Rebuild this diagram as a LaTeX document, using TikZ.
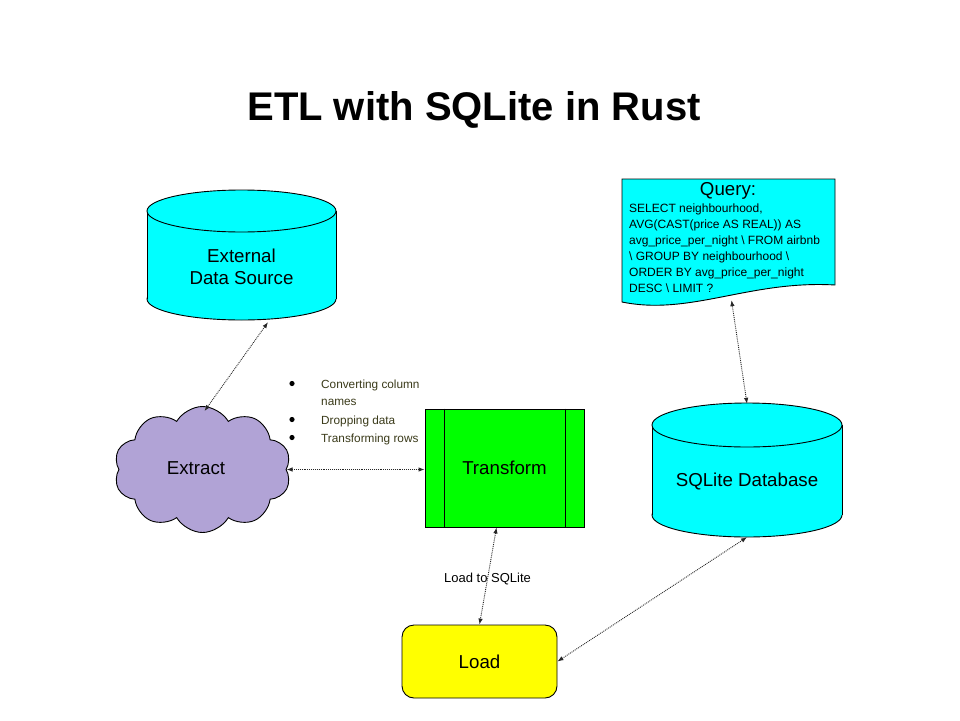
\documentclass[tikz,border=0pt]{standalone}
\usepackage{fontspec}
\setmainfont{Liberation Sans}
\usetikzlibrary{shapes.symbols,arrows.meta,calc}
\definecolor{cyanfill}{HTML}{00FFFF}
\definecolor{greenfill}{HTML}{00FF00}
\definecolor{yellowfill}{HTML}{FFFF00}
\definecolor{cloudfill}{HTML}{B1A3D6}
\definecolor{olivetext}{HTML}{3B3B1A}
\tikzset{
  outline/.style={draw=black, line width=0.9pt},
  lbl/.style={font=\fontsize{18.7}{22}\selectfont, align=center},
  conn/.style={densely dotted, draw=black!85, line width=0.9pt,
    {Latex[length=6pt,width=4.5pt]}-{Latex[length=6pt,width=4.5pt]}},
  bullettext/.style={anchor=base west, inner sep=0pt, text=olivetext, font=\fontsize{11.8}{14}\selectfont},
  anchorbox/.style={rectangle, inner sep=0pt, draw=none},
}
\begin{document}
\begin{tikzpicture}[x=1pt,y=-1pt]
\useasboundingbox (0,0) rectangle (960,720);
\fill[white] (0,0) rectangle (960,720);

% title
\node[font=\fontsize{40}{46}\selectfont\bfseries, anchor=base] (title) at (474,120) {ETL with SQLite in Rust};

% External data source cylinder
\node[anchorbox, minimum width=189pt, minimum height=130pt] (ext) at (241.5,255) {};
\fill[cyanfill, outline] (241.5,299) ellipse [x radius=94.5, y radius=21];
\fill[cyanfill] (147,211) rectangle (336,299);
\draw[outline] (147,211) -- (147,299) (336,211) -- (336,299);
\fill[cyanfill, outline] (241.5,211) ellipse [x radius=94.5, y radius=21];
\node[lbl] (exttext) at (241.5,266.5) {External\\Data Source};

% SQLite database cylinder
\node[anchorbox, minimum width=190pt, minimum height=133pt] (db) at (747,470.5) {};
\fill[cyanfill, outline] (747,515) ellipse [x radius=95, y radius=22];
\fill[cyanfill] (652,425) rectangle (842,515);
\draw[outline] (652,425) -- (652,515) (842,425) -- (842,515);
\fill[cyanfill, outline] (747,425) ellipse [x radius=95, y radius=22];
\node[lbl] (dbtext) at (747,481) {SQLite Database};

% Query document
\node[anchorbox, minimum width=213pt, minimum height=121pt] (q) at (728.5,239.5) {};
\filldraw[fill=cyanfill, outline] (622,179) -- (835,179) -- (835,285)
  .. controls (750,280) and (690,316) .. (622,302) -- cycle;
\node[font=\fontsize{18.7}{22}\selectfont] (qtitle) at (728,190.5) {Query:};
\node[anchor=north west, inner sep=0pt, align=left, font=\fontsize{12}{16}\selectfont] (qbody) at (629,203.5)
{SELECT neighbourhood,\\AVG(CAST(price AS REAL)) AS\\avg\_price\_per\_night \textbackslash{} FROM airbnb\\\textbackslash{} GROUP BY neighbourhood \textbackslash{}\\ORDER BY avg\_price\_per\_night\\DESC \textbackslash{} LIMIT ?};

% Extract cloud
\node[cloud, cloud puffs=10, cloud puff arc=120, aspect=1.45, fill=cloudfill, outline,
  minimum width=177pt, minimum height=126pt, inner sep=0pt] (ex) at (202.5,469.5) {};
\node[lbl] (extext) at (196,468.5) {Extract};

% Transform process box
\node[rectangle, fill=greenfill, outline, minimum width=159pt, minimum height=118pt, lbl] (tr) at (504.5,468) {Transform};
\draw[outline] ($(tr.north)+(-60.5,0)$) -- ($(tr.south)+(-60.5,0)$);
\draw[outline] ($(tr.north)+(60.5,0)$) -- ($(tr.south)+(60.5,0)$);

% Load rounded box
\node[rectangle, rounded corners=12pt, fill=yellowfill, outline, minimum width=155pt, minimum height=73pt, lbl] (ld) at (479.5,661.5) {Load};

% bullet list
\fill (292,383.5) circle (2.6);
\fill (292,419.5) circle (2.6);
\fill (292,437.5) circle (2.6);
\node[bullettext] (b1) at (321,388) {Converting column};
\node[bullettext] (b1b) at (321,405.5) {names};
\node[bullettext] (b2) at (321,424) {Dropping data};
\node[bullettext] (b3) at (321,442) {Transforming rows};

% connectors
\draw[conn] ($(ext.south)+(26.5,2)$) -- ($(ex.north)+(2,5)$);
\draw[conn] (ex.east) -- (ex.east -| tr.west);
\draw[conn] ($(tr.south)+(-8,0)$) -- node[pos=0.53, font=\fontsize{13}{15}\selectfont, inner sep=1pt] (lt) {Load to SQLite} (ld.north);
\draw[conn] (ld.east) -- (db.south);
\draw[conn] ($(q.south)+(3,0)$) -- (db.north);
\end{tikzpicture}
\end{document}
